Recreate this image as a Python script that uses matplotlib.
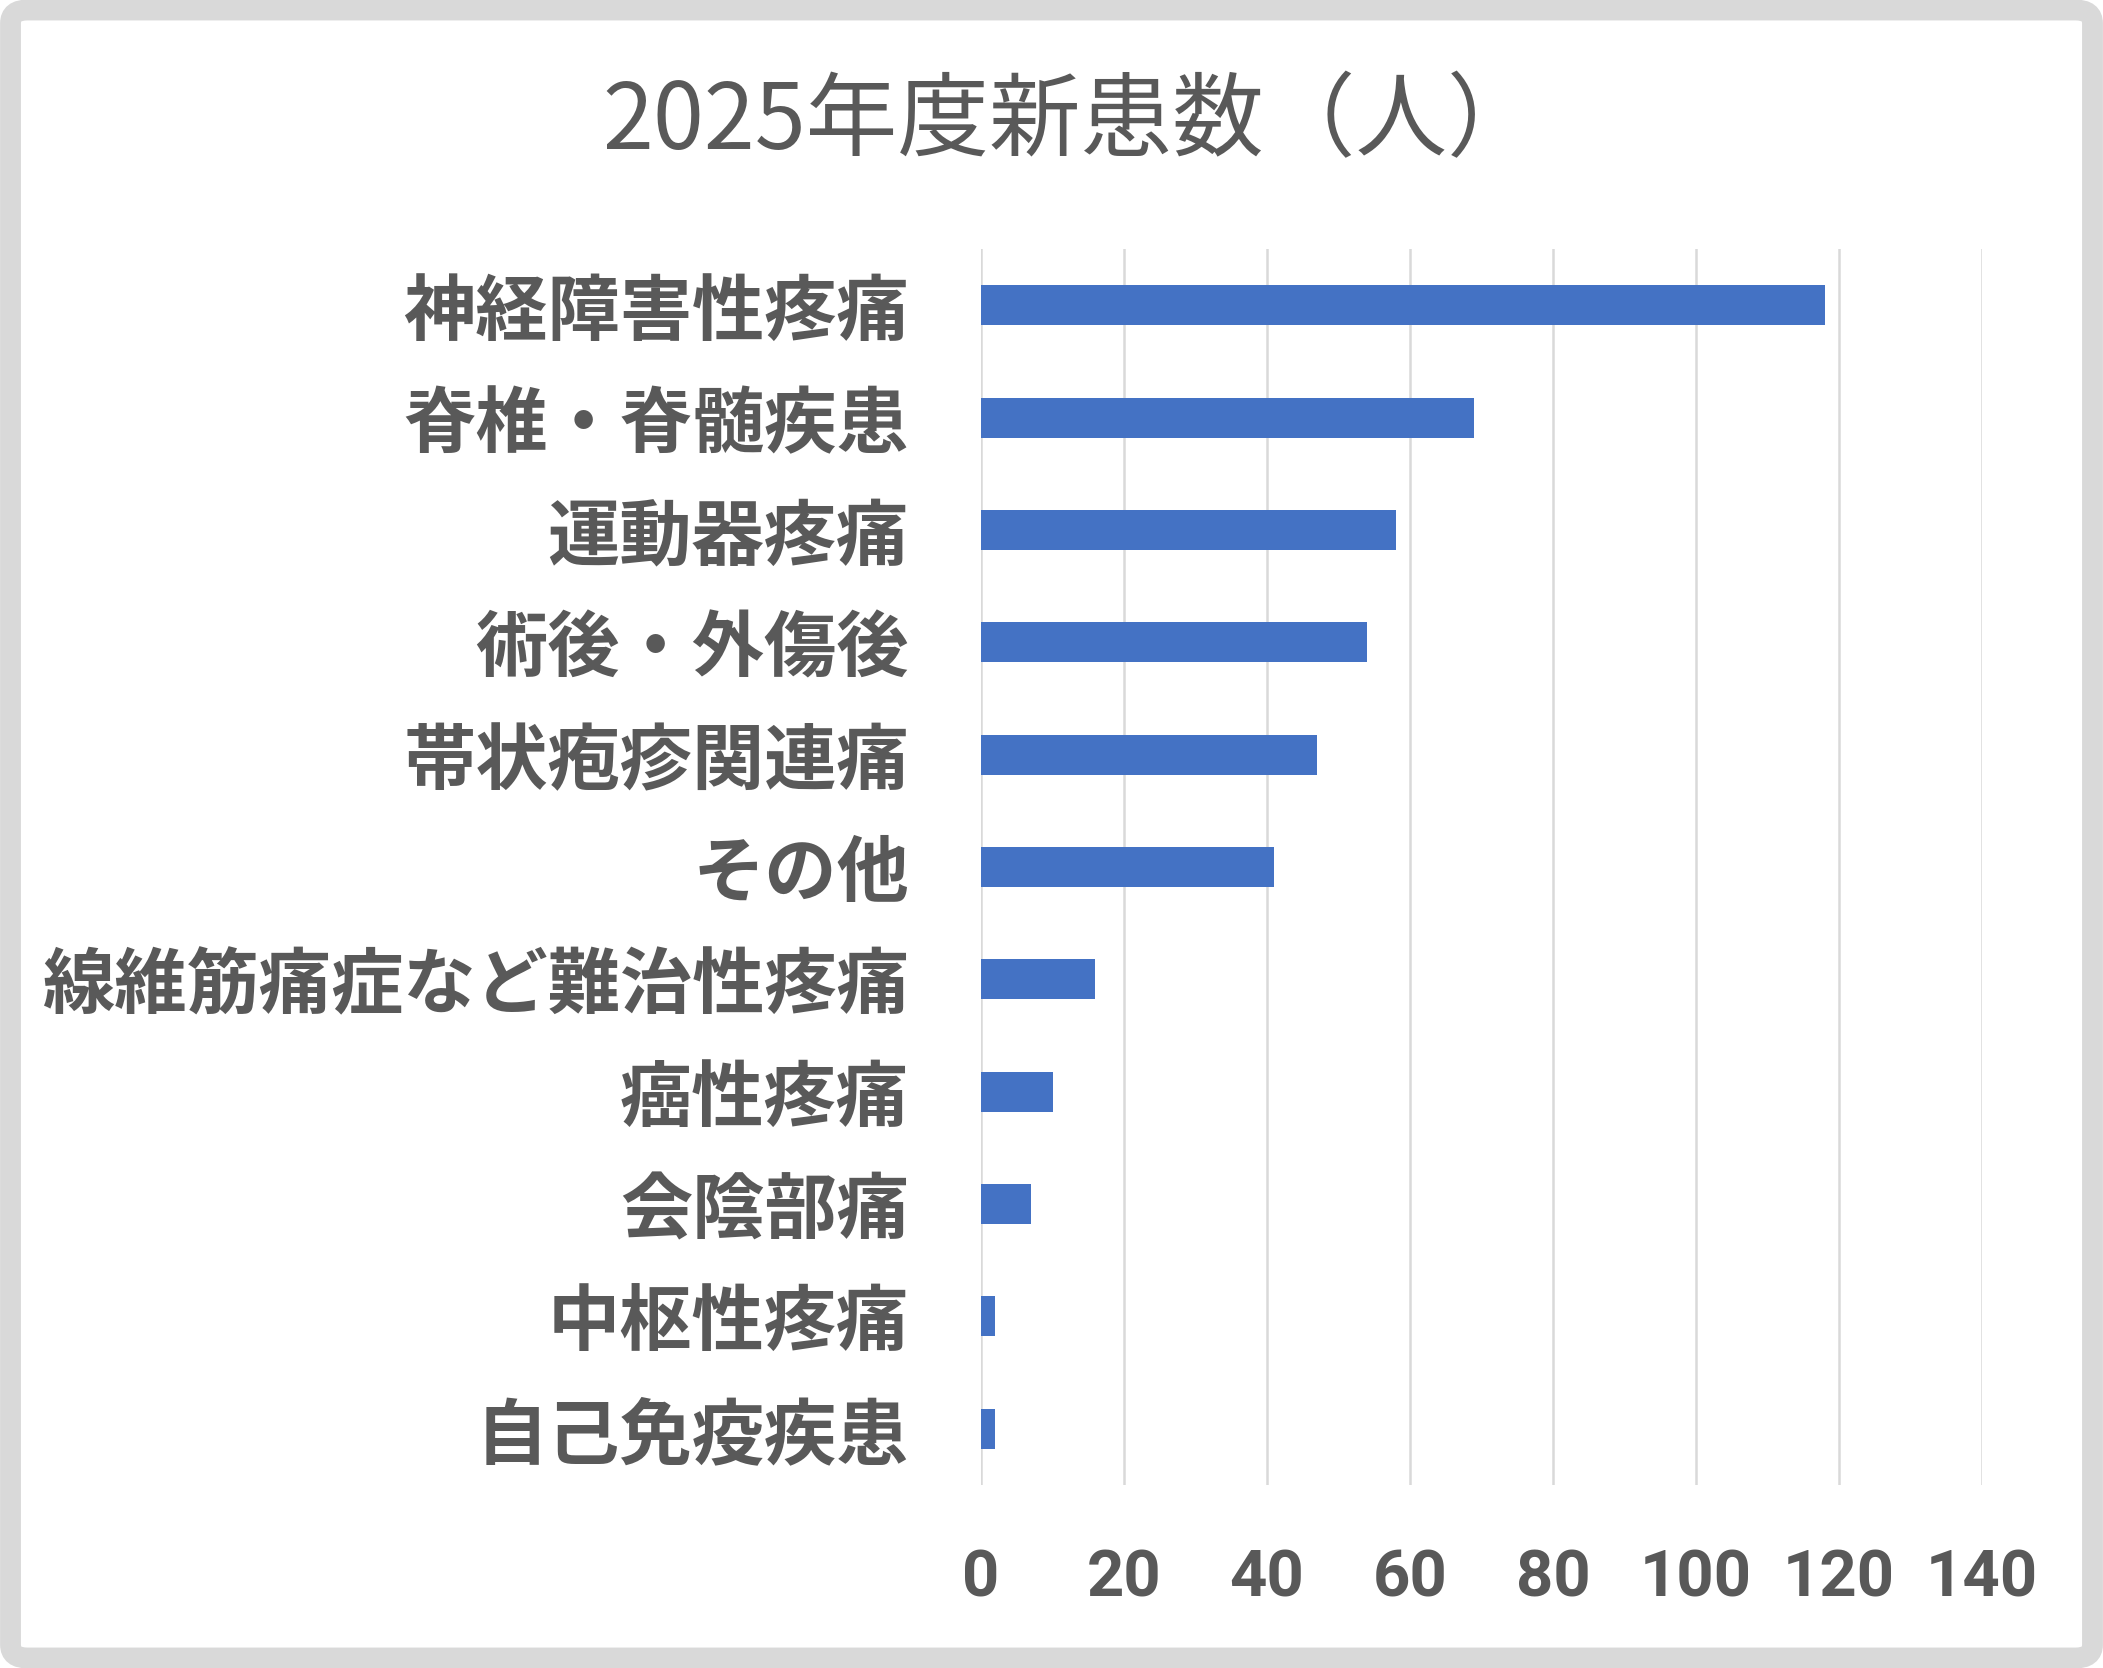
import matplotlib
matplotlib.use("Agg")
import matplotlib.pyplot as plt
from matplotlib.patches import FancyBboxPatch

plt.rcParams['font.family'] = ['Noto Sans CJK JP', 'DejaVu Sans']

title = '2025年度新患数（人）'
categories = ['神経障害性疼痛', '脊椎・脊髄疾患', '運動器疼痛', '術後・外傷後',
              '帯状疱疹関連痛', 'その他', '線維筋痛症など難治性疼痛', '癌性疼痛',
              '会陰部痛', '中枢性疼痛', '自己免疫疾患']
counts = [118, 69, 58, 54, 47, 41, 16, 10, 7, 2, 2]
xticks = [0, 20, 40, 60, 80, 100, 120, 140]

text_color = '#595959'
grid_color = '#D9D9D9'
bar_color = '#4472C4'

fig = plt.figure(figsize=(21.03, 16.68), dpi=100)

# grey rounded frame around the whole chart
frame = FancyBboxPatch((0.005, 0.006), 0.99, 0.988,
                       boxstyle='round,pad=0,rounding_size=0.008',
                       transform=fig.transFigure, facecolor='white',
                       edgecolor=grid_color, linewidth=15, zorder=-1)
fig.patches.append(frame)

ax = fig.add_axes([0.4665, 0.1097, 0.476, 0.741])
ax.set_facecolor('none')

ypos = list(range(len(categories)))
ax.barh(ypos, counts, height=0.356, color=bar_color, zorder=3)

ax.set_xlim(0, 140)
ax.set_ylim(len(categories) - 0.5, -0.5)
ax.set_xticks(xticks)
ax.set_yticks(ypos)
ax.set_yticklabels(categories, fontsize=52, fontweight='bold', color=text_color)
ax.set_xticklabels([str(t) for t in xticks], fontsize=47, fontweight='bold',
                   color=text_color, family=['Roboto', 'DejaVu Sans'])
ax.tick_params(axis='y', length=0, pad=52)
ax.tick_params(axis='x', length=0, pad=46)

ax.grid(axis='x', color=grid_color, linewidth=1.8, zorder=0)
for s in ax.spines.values():
    s.set_visible(False)

fig.text(0.509, 0.926, title, fontsize=66, color=text_color,
         ha='center', va='center')

fig.savefig('out.png', dpi=100)
